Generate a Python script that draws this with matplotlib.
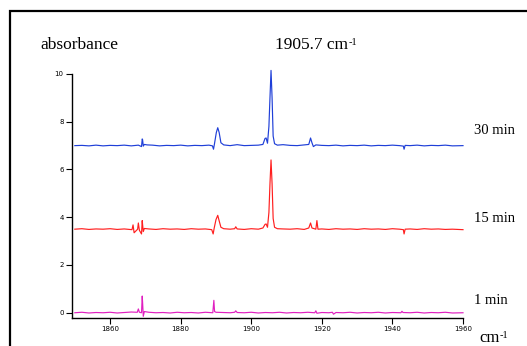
import matplotlib
matplotlib.use("Agg")
import matplotlib.pyplot as plt
from matplotlib.patches import Rectangle

## Spectra (wavenumber in cm-1, absorbance)
x_30 = [1850, 1852, 1854, 1856, 1858, 1860, 1862, 1864, 1866, 1868, 1868.9, 1869.1, 1869.2,
        1869.4, 1869.7, 1870.5, 1872, 1874, 1876, 1878, 1880, 1882, 1884, 1886, 1888, 1889.0,
        1889.3, 1889.6, 1890.1, 1890.5, 1890.9, 1891.4, 1892.2, 1894, 1896, 1898, 1900, 1902,
        1903.3, 1903.9, 1904.2, 1904.6, 1905.0, 1905.3, 1905.6, 1905.9, 1906.2, 1906.6, 1907.4,
        1909, 1911, 1913, 1915, 1916.3, 1916.8, 1917.2, 1917.6, 1918.3, 1920, 1922, 1924, 1926,
        1928, 1930, 1932, 1934, 1936, 1938, 1940, 1942, 1943.1, 1943.3, 1943.6, 1945, 1947, 1949,
        1951, 1953, 1955, 1957, 1960]
y_30 = [7.00, 7.01, 6.99, 7.02, 6.99, 7.01, 7.00, 7.02, 6.99, 7.02, 6.96, 7.28, 7.25,
        6.98, 7.05, 7.03, 7.02, 6.99, 7.01, 7.00, 7.02, 6.99, 7.01, 7.00, 7.02, 6.99,
        6.85, 7.10, 7.55, 7.75, 7.55, 7.12, 7.03, 7.00, 7.04, 7.00, 7.01, 7.02,
        7.05, 7.30, 7.32, 7.10, 7.80, 9.00, 10.15, 9.00, 7.40, 7.08, 7.02,
        7.04, 7.01, 7.00, 7.03, 7.05, 7.32, 7.12, 6.96, 7.03, 7.01, 7.00, 7.02, 6.99,
        7.01, 7.00, 7.02, 6.99, 7.01, 7.00, 7.02, 7.00, 6.98, 6.85, 7.01, 7.00, 7.02, 6.99,
        7.01, 7.00, 7.02, 6.99, 7.00]

x_15 = [1850, 1852, 1854, 1856, 1858, 1860, 1862, 1864, 1866.2, 1866.5, 1866.8, 1867.8, 1868.0,
        1868.3, 1868.9, 1869.1, 1869.2, 1869.4, 1869.7, 1871, 1873, 1875, 1877, 1879, 1881, 1883,
        1885, 1887, 1888.8, 1889.2, 1889.5, 1890.0, 1890.5, 1890.9, 1891.4, 1892.2, 1894, 1895.3,
        1895.6, 1896, 1898, 1900, 1902, 1903.3, 1903.9, 1904.2, 1904.6, 1905.0, 1905.3, 1905.6,
        1905.9, 1906.2, 1906.6, 1907.4, 1909, 1911, 1913, 1915, 1916.3, 1916.8, 1917.2, 1918.3,
        1918.6, 1918.9, 1920, 1922, 1924, 1926, 1928, 1930, 1932, 1934, 1936, 1938, 1940, 1942,
        1943.1, 1943.3, 1943.6, 1945, 1947, 1949, 1951, 1953, 1955, 1957, 1960]
y_15 = [3.50, 3.52, 3.49, 3.51, 3.50, 3.52, 3.49, 3.51, 3.48, 3.68, 3.35, 3.50, 3.76,
        3.45, 3.30, 3.86, 3.70, 3.40, 3.53, 3.51, 3.49, 3.52, 3.50, 3.51, 3.49, 3.52,
        3.50, 3.51, 3.48, 3.30, 3.55, 3.90, 4.08, 3.85, 3.58, 3.52, 3.50, 3.52,
        3.60, 3.51, 3.49, 3.52, 3.50, 3.55, 3.70, 3.72, 3.58, 4.20, 5.40, 6.40,
        5.40, 3.95, 3.58, 3.52, 3.51, 3.50, 3.52, 3.49, 3.55, 3.76, 3.55, 3.50,
        3.86, 3.50, 3.51, 3.49, 3.52, 3.50, 3.51, 3.49, 3.52, 3.50, 3.51, 3.49, 3.52, 3.50,
        3.48, 3.30, 3.50, 3.51, 3.49, 3.52, 3.50, 3.51, 3.49, 3.50, 3.48]

x_1 = [1850, 1852, 1854, 1856, 1858, 1860, 1862, 1864, 1866, 1867.7, 1868.0, 1868.3, 1868.9,
       1869.1, 1869.2, 1869.4, 1869.7, 1871, 1873, 1875, 1877, 1879, 1881, 1883, 1885, 1887,
       1889.1, 1889.4, 1889.6, 1890.0, 1892, 1894, 1895.3, 1895.6, 1896, 1898, 1900, 1902, 1904,
       1906, 1908, 1910, 1912, 1914, 1916, 1918.0, 1918.3, 1918.6, 1920, 1922, 1923.0, 1923.3,
       1924, 1926, 1928, 1930, 1932, 1934, 1936, 1938, 1940, 1942.4, 1942.7, 1943, 1945, 1947,
       1949, 1951, 1953, 1955, 1957, 1960]
y_1 = [0.00, 0.02, -0.01, 0.01, 0.00, 0.02, -0.01, 0.01, 0.03, 0.02, 0.16, 0.02, 0.00,
       0.70, 0.45, -0.15, 0.05, 0.02, 0.00, 0.01, -0.01, 0.02, 0.00, 0.01, -0.01, 0.02,
       0.00, 0.52, 0.05, 0.02, 0.01, 0.00, 0.02, 0.08, 0.01, 0.00, 0.02, -0.01, 0.01,
       0.00, 0.02, -0.01, 0.01, 0.00, 0.02, 0.00, 0.08, -0.02, 0.01, 0.00, 0.02, -0.06,
       0.01, 0.00, 0.02, -0.01, 0.01, 0.00, 0.02, -0.01, 0.01, 0.00, 0.06, 0.01, 0.00, 0.02,
       -0.01, 0.01, 0.00, 0.02, -0.01, 0.00]

labels = ["30 min", "15 min", "1 min"]
colors = ["#1f3fd8", "#ff1f1f", "#e020c0"]
x_ticks = [1860, 1880, 1900, 1920, 1940, 1960]
y_ticks = [0, 2, 4, 6, 8, 10]

serif = "Liberation Serif"

fig = plt.figure(figsize=(5.27, 3.46), dpi=100)
ax = fig.add_axes([72 / 527, 28 / 346, 391 / 527, 244 / 346])

for xs, ys, c in zip([x_30, x_15, x_1], [y_30, y_15, y_1], colors):
    ax.plot(xs, ys, color=c, lw=0.85, clip_on=False)

ax.set_xlim(1849.2, 1960)
ax.set_ylim(-0.22, 10)
ax.set_xticks(x_ticks)
ax.set_yticks(y_ticks)
ax.tick_params(labelsize=5, length=4, width=0.8, direction="out", pad=2)
for s in ["top", "right"]:
    ax.spines[s].set_visible(False)
for s in ["left", "bottom"]:
    ax.spines[s].set_linewidth(1.0)

fig.text(40 / 527, 1 - 45 / 346, "absorbance", family=serif, fontsize=12.5, va="center")

# "cm" labels with a small raised "-1" after them
t1 = fig.text(275 / 527, 1 - 45 / 346, "1905.7 cm", family=serif, fontsize=12.5, va="center")
ax.annotate("-1", xy=(1, 1), xycoords=t1, xytext=(0.3, -1.0), textcoords="offset points",
            family=serif, fontsize=7.5, va="top", ha="left", annotation_clip=False)

text_y = [131, 218, 300]
for lab, ty in zip(labels, text_y):
    fig.text(474 / 527, 1 - ty / 346, lab, family=serif, fontsize=10.5, va="center")

t2 = fig.text(479 / 527, 1 - 338 / 346, "cm", family=serif, fontsize=12, va="center")
ax.annotate("-1", xy=(1, 1), xycoords=t2, xytext=(0.3, -1.0), textcoords="offset points",
            family=serif, fontsize=7.5, va="top", ha="left", annotation_clip=False)

# outer frame
fig.patches.append(Rectangle((10 / 527, -0.05), 1.1, 1 - 11 / 346 + 0.05,
                             transform=fig.transFigure, fill=False, lw=1.6,
                             edgecolor="black"))

fig.savefig("out.png", dpi=100)
